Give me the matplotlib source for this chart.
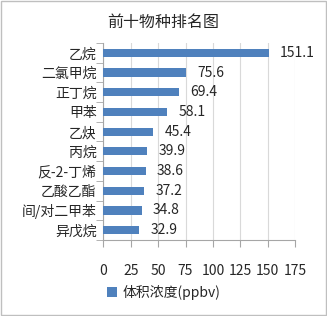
import matplotlib
matplotlib.use('Agg')
import matplotlib.pyplot as plt
from matplotlib.patches import Rectangle

plt.rcParams['font.family'] = ['Noto Sans CJK SC', 'DejaVu Sans']

# 数据
species = ['乙烷', '二氯甲烷', '正丁烷', '甲苯', '乙炔', '丙烷', '反-2-丁烯', '乙酸乙酯', '间/对二甲苯', '异戊烷']
conc = [151.1, 75.6, 69.4, 58.1, 45.4, 39.9, 38.6, 37.2, 34.8, 32.9]
xticks = [0, 25, 50, 75, 100, 125, 150, 175]

bar_color = '#4F81BD'
text_color = '#262626'
axis_color = '#A6A6A6'

fig = plt.figure(figsize=(3.27, 3.16), dpi=100)
fig.patches.append(Rectangle((0.004, 0.004), 0.992, 0.992, transform=fig.transFigure,
                             fill=False, edgecolor='#BFBFBF', linewidth=1))
ax = fig.add_axes([0.3165, 0.2405, 0.5855, 0.6235])

pos = list(range(len(species)))
bars = ax.barh(pos, conc, height=0.42, color=bar_color, label='体积浓度(ppbv)', zorder=3)
ax.set_ylim(len(species) - 0.5, -0.5)
ax.set_xlim(0, 175)
ax.set_xticks(xticks)
ax.set_xticklabels([str(t) for t in xticks])
ax.set_yticks(pos)
ax.set_yticklabels(species)

# 分类边界刻度
ax.set_yticks([p - 0.5 for p in pos] + [len(species) - 0.5], minor=True)
ax.tick_params(axis='y', which='major', length=0, pad=5, labelsize=10, colors=text_color)
ax.tick_params(axis='y', which='minor', length=5, color=axis_color, direction='out')
ax.tick_params(axis='x', which='major', length=5, color=axis_color, direction='out',
               labelsize=10, labelcolor=text_color, pad=12)

ax.grid(axis='x', color='#D9D9D9', linewidth=0.8, zorder=0)
for s in ['top', 'right']:
    ax.spines[s].set_visible(False)
for s in ['left', 'bottom']:
    ax.spines[s].set_color(axis_color)
    ax.spines[s].set_linewidth(0.8)

for b, v in zip(bars, conc):
    ax.annotate(f'{v:.1f}', xy=(b.get_width(), b.get_y() + b.get_height() / 2),
                xytext=(8, 0), textcoords='offset points', va='center', ha='left',
                fontsize=10, color=text_color)

fig.text(0.5, 0.93, '前十物种排名图', ha='center', va='center', fontsize=11.5, color=text_color)

fig.legend(loc='center', bbox_to_anchor=(0.5, 0.075), frameon=False, fontsize=10,
           handlelength=0.7, handleheight=0.7, handletextpad=0.4, labelcolor=text_color)

fig.savefig('out.png', dpi=100)
